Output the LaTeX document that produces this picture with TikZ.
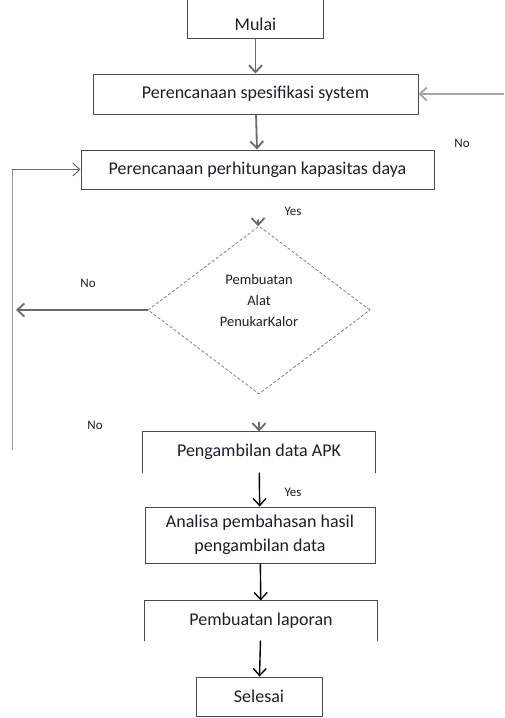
\documentclass[tikz,border=0pt]{standalone}
\usepackage{fontspec}
\setmainfont{Carlito}
\usetikzlibrary{positioning, arrows.meta, shapes.geometric}
\definecolor{Garis}{HTML}{4A4A4A}
\definecolor{Panah}{HTML}{6A6A6A}
\definecolor{Teks}{HTML}{1E1E28}
\tikzset{
    kotak/.style={rectangle, draw=Garis, line width=1pt, inner sep=0pt, align=center, text=Teks, font=\fontsize{18}{24}\selectfont},
    tepi/.style={draw=Garis, line width=1pt},
    keputusan/.style={diamond, draw=Garis!70, densely dashed, line width=0.8pt, inner sep=0pt},
    isi/.style={align=center, inner sep=0pt, text=Teks, font=\fontsize{14.5}{21}\selectfont},
    panah/.style={-{Straight Barb[length=7pt, width=13pt]}, line width=1.8pt, color=Panah},
    garis/.style={line width=1pt, color=Panah!70},
    ket/.style={font=\fontsize{13}{15}\selectfont, text=Teks},
}

\begin{document}
\begin{tikzpicture}[x=1pt, y=-1pt]
    \useasboundingbox (0,0) rectangle (504,718);

    % Kotak proses
    \node[kotak, draw=none, minimum width=135pt, minimum height=48pt, text height=32pt, text depth=0pt] (mulai) at (255.5,14) {Mulai};
    \draw[tepi] (mulai.north west) -- (mulai.south west) -- (mulai.south east) -- (mulai.north east);
    \node[kotak, minimum width=325pt, minimum height=40pt] (spesifikasi) at (255.5,94) {Perencanaan spesifikasi system};
    \node[kotak, minimum width=353pt, minimum height=39pt] (perhitungan) at (257.5,169.5) {Perencanaan perhitungan kapasitas daya};
    \node[keputusan, minimum width=222pt, minimum height=168pt] (alat) at (259,310) {};
    \node[isi, yshift=9pt] (teksalat) at (alat.center) {Pembuatan\\Alat\\PenukarKalor};
    \node[kotak, draw=none, minimum width=232pt, minimum height=40pt] (pengambilan) at (259,452) {Pengambilan data APK};
    \draw[tepi] (pengambilan.south west) -- (pengambilan.north west) -- (pengambilan.north east) -- (pengambilan.south east);
    \node[kotak, minimum width=230pt, minimum height=56pt] (analisa) at (260,535) {Analisa pembahasan hasil\\pengambilan data};
    \node[kotak, draw=none, minimum width=232pt, minimum height=39pt] (laporan) at (261,620.5) {Pembuatan laporan};
    \draw[tepi] (laporan.south west) -- (laporan.north west) -- (laporan.north east) -- (laporan.south east);
    \node[kotak, minimum width=126pt, minimum height=39pt] (selesai) at (259,696.5) {Selesai};

    % Titik bantu untuk garis balik
    \coordinate (masuk) at (504,94);
    \coordinate (kiri) at (16,310);
    \coordinate (bawah) at (12,450);
    \coordinate (atas) at (12,169.5);

    % Panah alur
    \draw[panah] (mulai) -- (spesifikasi);
    \draw[panah] (spesifikasi) -- (perhitungan);
    \draw[panah, shorten <=30pt] (perhitungan) -- (alat);
    \draw[panah, shorten <=28pt] (alat) -- (pengambilan);
    \draw[panah, color=black, line width=1.4pt] (pengambilan) -- (analisa);
    \draw[panah, color=black, line width=1.4pt] (analisa) -- (laporan);
    \draw[panah, color=black, line width=1.4pt] (laporan) -- (selesai);

    % Panah balik
    \draw[panah, color=Panah!60] (masuk) -- (spesifikasi.east);
    \draw[panah] (alat.west) -- (kiri);
    \draw[garis] (bawah) -- (atas);
    \draw[panah, line width=1pt] (atas) -- (perhitungan.west);

    % Keterangan
    \node[ket] (no1) at (462,143) {No};
    \node[ket] (yes1) at (293,211) {Yes};
    \node[ket] (no2) at (88,283) {No};
    \node[ket] (no3) at (95,425) {No};
    \node[ket] (yes2) at (293,492) {Yes};
\end{tikzpicture}
\end{document}
